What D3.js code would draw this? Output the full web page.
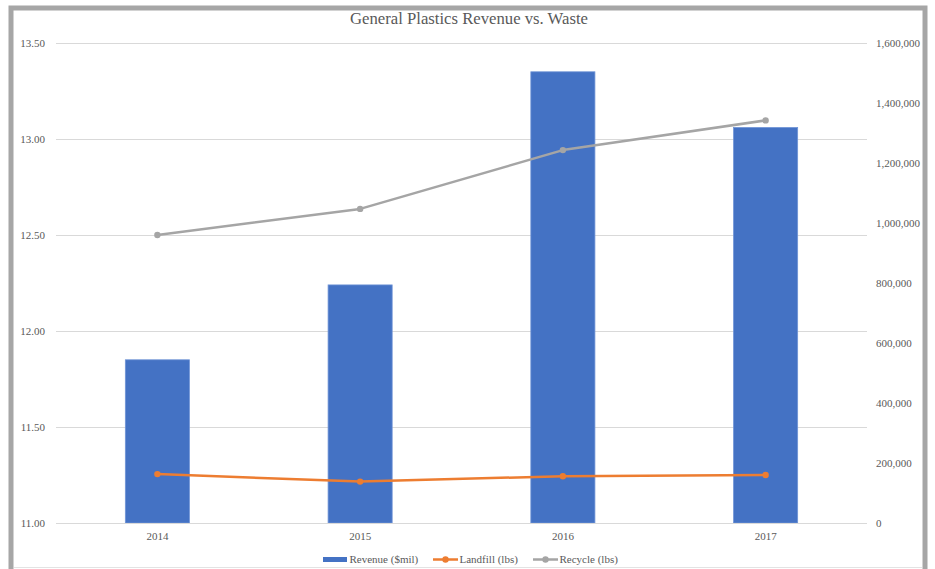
<!DOCTYPE html>
<html>
<head>
<meta charset="utf-8">
<script src="https://cdn.jsdelivr.net/npm/d3@7"></script>
<style>
  html, body { margin: 0; padding: 0; background: #fff; }
  svg { display: block; }
</style>
</head>
<body>
<svg id="chart" width="935" height="569"></svg>
<script>
const years = ["2014", "2015", "2016", "2017"];
const revenue = [11.85, 12.24, 13.35, 13.06];
const landfill = [163000, 138000, 156000, 160000];
const recycle = [960000, 1047000, 1243000, 1342000];
const leftTicks = [11.0, 11.5, 12.0, 12.5, 13.0, 13.5];
const rightTicks = [0, 200000, 400000, 600000, 800000, 1000000, 1200000, 1400000, 1600000];
const title = "General Plastics Revenue vs. Waste";
const seriesNames = ["Revenue ($mil)", "Landfill (lbs)", "Recycle (lbs)"];
const colors = ["#4472c4", "#ed7d31", "#a5a5a5"];

const FONT = '"Liberation Serif", "Times New Roman", serif';
const svg = d3.select("#chart");
const L = 56, R = 867, T = 43, B = 523;

// frame
svg.append("line").attr("x1", 14).attr("x2", 922).attr("y1", 567.5).attr("y2", 567.5)
  .attr("stroke", "#e3e3e3").attr("stroke-width", 1);
svg.append("rect").attr("x", 11).attr("y", 8).attr("width", 914).attr("height", 620)
  .attr("fill", "none").attr("stroke", "#a6a6a6").attr("stroke-width", 5);

const x = d3.scaleBand().domain(years).range([L, R]).padding(0);
const yL = d3.scaleLinear().domain([11, 13.5]).range([B, T]);
const yR = d3.scaleLinear().domain([0, 1600000]).range([B, T]);

function styleText(sel) {
  sel.style("font-family", FONT).style("font-size", "11px").style("fill", "#595959");
}

// gridlines
const grid = svg.append("g").attr("transform", `translate(${L},0)`)
  .call(d3.axisLeft(yL).tickValues(leftTicks).tickSize(-(R - L)).tickFormat(""));
grid.select(".domain").remove();
grid.selectAll("line").attr("stroke", "#d9d9d9").attr("stroke-width", 1);

// left axis labels
const gl = svg.append("g").attr("transform", `translate(${L},0)`)
  .call(d3.axisLeft(yL).tickValues(leftTicks).tickSize(0).tickPadding(11).tickFormat(d3.format(".2f")));
gl.select(".domain").remove();
styleText(gl.selectAll("text"));

// right axis labels
const gr = svg.append("g").attr("transform", `translate(${R},0)`)
  .call(d3.axisRight(yR).tickValues(rightTicks).tickSize(0).tickPadding(9).tickFormat(d3.format(",")));
gr.select(".domain").remove();
styleText(gr.selectAll("text"));

// bars
const barW = x.bandwidth() * 0.316;
svg.append("g").selectAll("rect").data(years).join("rect")
  .attr("x", (d) => x(d) + (x.bandwidth() - barW) / 2)
  .attr("y", (d, i) => yL(revenue[i]))
  .attr("width", barW)
  .attr("height", (d, i) => yL(11) - yL(revenue[i]))
  .attr("fill", colors[0])
  .attr("stroke", "#6f93d6").attr("stroke-width", 0.8);

// bottom axis
const gb = svg.append("g").attr("transform", `translate(0,${B})`)
  .call(d3.axisBottom(x).tickSize(0).tickPadding(9));
gb.select(".domain").attr("stroke", "#d9d9d9").attr("d", `M${L},0.5H${R}`);
styleText(gb.selectAll("text"));

// lines
const cx = (d) => x(d) + x.bandwidth() / 2;
function drawLine(vals, color) {
  const pts = years.map((d, i) => [cx(d), yR(vals[i])]);
  svg.append("path").datum(pts)
    .attr("d", d3.line())
    .attr("fill", "none").attr("stroke", color).attr("stroke-width", 2.5)
    .attr("stroke-linejoin", "round").attr("stroke-linecap", "round");
  svg.append("g").selectAll("circle").data(pts).join("circle")
    .attr("cx", (p) => p[0]).attr("cy", (p) => p[1]).attr("r", 3.2)
    .attr("fill", color);
}
drawLine(landfill, colors[1]);
drawLine(recycle, colors[2]);

// title
svg.append("text").attr("x", 469).attr("y", 24).attr("text-anchor", "middle")
  .style("font-family", FONT).style("font-size", "16.7px").style("fill", "#595959").text(title);

// legend
const lg = svg.append("g");
const ly = 559.5;
const legendX = [323, 433, 533];
lg.append("rect").attr("x", legendX[0]).attr("y", ly - 2.5).attr("width", 24).attr("height", 5).attr("fill", colors[0]);
[1, 2].forEach((k) => {
  lg.append("line").attr("x1", legendX[k]).attr("x2", legendX[k] + 25).attr("y1", ly).attr("y2", ly)
    .attr("stroke", colors[k]).attr("stroke-width", 2.5);
  lg.append("circle").attr("cx", legendX[k] + 12.5).attr("cy", ly).attr("r", 3.2).attr("fill", colors[k]);
});
seriesNames.forEach((n, k) => {
  styleText(lg.append("text").attr("x", legendX[k] + 26.5).attr("y", ly + 3.8).text(n));
});
</script>
</body>
</html>
